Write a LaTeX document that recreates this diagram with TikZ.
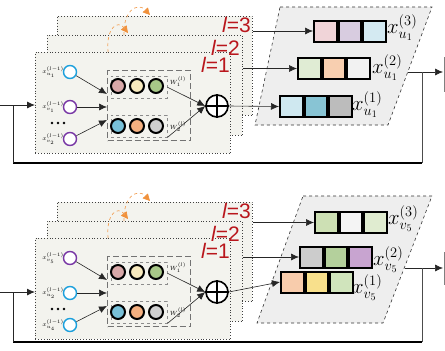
\documentclass[tikz,border=0pt]{standalone}
\usepackage{fontspec}
\newfontfamily\labfont{Liberation Sans}
\usetikzlibrary{arrows.meta,calc}

\definecolor{panelbg}{RGB}{243,243,238}
\definecolor{parabg}{RGB}{238,238,238}
\definecolor{layerred}{RGB}{185,22,28}
\definecolor{arcorange}{RGB}{240,145,60}
\definecolor{incyan}{RGB}{28,160,220}
\definecolor{inpurple}{RGB}{120,55,165}
% hidden units
\definecolor{hpink}{RGB}{216,168,168}
\definecolor{hcream}{RGB}{248,234,190}
\definecolor{hgreen}{RGB}{168,200,136}
\definecolor{hblue}{RGB}{120,192,216}
\definecolor{horange}{RGB}{244,176,128}
\definecolor{hgray}{RGB}{208,208,208}
% output embeddings, upper block
\definecolor{ua1}{RGB}{240,212,216}\definecolor{ua2}{RGB}{216,204,224}\definecolor{ua3}{RGB}{212,234,242}
\definecolor{ub1}{RGB}{224,236,212}\definecolor{ub2}{RGB}{248,207,176}\definecolor{ub3}{RGB}{242,242,242}
\definecolor{uc1}{RGB}{207,232,240}\definecolor{uc2}{RGB}{136,196,212}\definecolor{uc3}{RGB}{188,188,188}
% output embeddings, lower block
\definecolor{la1}{RGB}{205,224,180}\definecolor{la2}{RGB}{244,244,244}\definecolor{la3}{RGB}{224,236,208}
\definecolor{lb1}{RGB}{204,204,204}\definecolor{lb2}{RGB}{180,208,156}\definecolor{lb3}{RGB}{200,164,208}
\definecolor{lc1}{RGB}{248,204,172}\definecolor{lc2}{RGB}{248,224,140}\definecolor{lc3}{RGB}{208,228,188}

\tikzset{
  layerbox/.style={draw=black!75, dotted, line width=0.8pt, fill=panelbg,
    anchor=north west, minimum width=195pt, inner sep=0pt},
  layerlab/.style={text=layerred, inner sep=0pt, anchor=base east,
    font=\labfont\fontsize{21}{21}\selectfont},
  incirc/.style={circle, draw=#1, line width=1.4pt, fill=white,
    minimum size=13pt, inner sep=0pt},
  inlab/.style={anchor=east, inner sep=0pt, font=\fontsize{6.5}{7}\selectfont},
  hid/.style={circle, draw=black, line width=2pt, fill=#1,
    minimum size=14pt, inner sep=0pt},
  grpbox/.style={draw=black!55, dash pattern=on 6pt off 3pt, line width=1pt,
    anchor=north west, inner sep=0pt},
  rowbox/.style={draw=black!45, dashed, line width=0.6pt, anchor=north west,
    inner sep=0pt, minimum width=56pt, minimum height=22pt},
  wlab/.style={inner sep=0pt, font=\fontsize{6.5}{7}\selectfont},
  arr/.style={draw=black!85, line width=0.6pt, -{Latex[length=8pt,width=7pt]}},
  orangearc/.style={draw=arcorange!85, dashed, line width=0.7pt,
    -{Triangle[length=7pt,width=7pt,fill=arcorange,color=arcorange]}},
  sumnode/.style={circle, draw=black, line width=1.6pt, minimum size=22pt,
    inner sep=0pt, fill=white},
  cell/.style={draw=black, line width=2pt, fill=#1, minimum width=22.5pt,
    minimum height=21pt, inner sep=0pt, anchor=west},
  outlab/.style={anchor=west, inner sep=0pt, font=\fontsize{20}{20}\selectfont},
  para/.style={draw=black!80, dashed, line width=0.6pt, fill=parabg},
  loopline/.style={draw=black!85, line width=0.9pt},
}

% one stack of three message-passing layers
% #1 prefix, then label/colour for each of the three input nodes
\newcommand\gnnstack[7]{%
  \node[layerbox, minimum height=99pt]  (#1L3) at (57,16) {};
  \node[layerbox, minimum height=100pt] (#1L2) at (47,35) {};
  \node[layerbox, minimum height=101pt] (#1L1) at (35,52) {};
  \node[layerlab] (#1l3) at (251,32) {\itshape l\upshape=3};
  \node[layerlab] (#1l2) at (240,55) {\itshape l\upshape=2};
  \node[layerlab] (#1l1) at (230,72) {\itshape l\upshape=1};
  % layer-to-layer hints
  \coordinate (#1a1s) at (108,52);  \coordinate (#1a1e) at (128,33);
  \coordinate (#1a2s) at (124,35);  \coordinate (#1a2e) at (150,15);
  \draw[orangearc] (#1a1s) .. controls (106,27) and (118,20) .. (#1a1e);
  \draw[orangearc] (#1a2s) .. controls (123,10) and (138,2) .. (#1a2e);
  % neighbour inputs
  \node[incirc=#3] (#1c1) at (70,72)  {};
  \node[incirc=#5] (#1c2) at (70,107) {};
  \node[incirc=#7] (#1c3) at (70,139) {};
  \node[inlab] (#1x1) at (64,72)  {$x^{(l-1)}_{#2}$};
  \node[inlab] (#1x2) at (64,107) {$x^{(l-1)}_{#4}$};
  \node[inlab] (#1x3) at (64,139) {$x^{(l-1)}_{#6}$};
  \fill (52,123) circle (1.4pt) (58,123) circle (1.4pt) (64,123) circle (1.4pt);
  % weight groups
  \node[grpbox, minimum width=83pt, minimum height=70pt] (#1grp) at (107,70) {};
  \node[rowbox] (#1h1) at (111,76)  {};
  \node[rowbox] (#1h2) at (111,115) {};
  \node[hid=hpink]   (#1p1) at (118,86)  {};
  \node[hid=hcream]  (#1p2) at (137,86)  {};
  \node[hid=hgreen]  (#1p3) at (156,86)  {};
  \node[hid=hblue]   (#1q1) at (118,126) {};
  \node[hid=horange] (#1q2) at (137,126) {};
  \node[hid=hgray]   (#1q3) at (156,126) {};
  \node[wlab] (#1w1) at (178,82)  {$W_1^{(l)}$};
  \node[wlab] (#1w2) at (178,127) {$W_2^{(l)}$};
  \coordinate (#1t1) at (107,94);
  \coordinate (#1t2) at (107,107);
  \coordinate (#1t3) at (107,120);
  \draw[arr] (#1c1) -- (#1t1);
  \draw[arr] (#1c2) -- (#1t2);
  \draw[arr] (#1c3) -- (#1t3);
  % aggregation
  \node[sumnode] (#1sum) at (217,106) {};
  \draw[line width=1.6pt] (#1sum.north) -- (#1sum.south) (#1sum.west) -- (#1sum.east);
  \draw[arr] (#1h1.east) -- (#1sum.west);
  \draw[arr] ($(#1h2.east)+(0,11)$) -- (#1sum.west);
}

\begin{document}
\begin{tikzpicture}[x=1pt,y=-1pt]
\useasboundingbox (0,0) rectangle (445,351);

% ---------- upper block: node u1 ----------
\gnnstack{t}{u_1}{incyan}{v_1}{inpurple}{v_2}{inpurple}
\draw[para] (280,7) -- (432,7) -- (388,125) -- (255,125) -- cycle;
\node[cell=ua1] (tr3a) at (313,31) {};
\node[cell=ua2] (tr3b) at (tr3a.east) {};
\node[cell=ua3] (tr3c) at (tr3b.east) {};
\node[cell=ub1] (tr2a) at (297,68.5) {};
\node[cell=ub2] (tr2b) at (tr2a.east) {};
\node[cell=ub3] (tr2c) at (tr2b.east) {};
\node[cell=uc1] (tr1a) at (279,106.5) {};
\node[cell=uc2] (tr1b) at (tr1a.east) {};
\node[cell=uc3] (tr1c) at (tr1b.east) {};
\node[outlab] (tx3) at (387,28)  {$x_{u_1}^{(3)}$};
\node[outlab] (tx2) at (372,68)  {$x_{u_1}^{(2)}$};
\node[outlab] (tx1) at (352,105) {$x_{u_1}^{(1)}$};
\draw[arr] (tL3.east |- tr3a.west) -- (tr3a.west);
\draw[arr] (tL2.east |- tr2a.west) -- (tr2a.west);
\draw[arr] (tsum.east) -- (tr1a.west);
% output and feedback loop
\coordinate (tout) at (408,72);  \coordinate (tend) at (443,72);
\coordinate (tturn) at (422,72); \coordinate (tlow) at (422,163);
\coordinate (tleft) at (13,163); \coordinate (tjoin) at (13,105);
\coordinate (tin) at (0,105);
\draw[arr] (tout) -- (tend);
\draw[draw=black!70, line width=0.7pt] (tturn) -- (tlow);
\draw[draw=black, line width=1.6pt] (tlow) -- (tleft);
\draw[loopline] (tleft) -- (tjoin);
\draw[arr, line width=0.9pt] (tin) -- (tL1.west |- tin);
\draw[black!50, line width=0.8pt] (444.5,57) -- (444.5,92);

% ---------- lower block: node v5 ----------
\begin{scope}[yshift=-186pt]
\gnnstack{b}{v_5}{inpurple}{u_2}{incyan}{u_4}{incyan}
\end{scope}
\draw[para] (303,196) -- (432,196) -- (383,323) -- (257,323) -- cycle;
\node[cell=la1] (br3a) at (314,222.5) {};
\node[cell=la2] (br3b) at (br3a.east) {};
\node[cell=la3] (br3c) at (br3b.east) {};
\node[cell=lb1] (br2a) at (299,257) {};
\node[cell=lb2] (br2b) at (br2a.east) {};
\node[cell=lb3] (br2c) at (br2b.east) {};
\node[cell=lc1] (br1a) at (280,282) {};
\node[cell=lc2] (br1b) at (br1a.east) {};
\node[cell=lc3] (br1c) at (br1b.east) {};
\node[outlab] (bx3) at (388,219) {$x_{v_5}^{(3)}$};
\node[outlab] (bx2) at (373,260) {$x_{v_5}^{(2)}$};
\node[outlab] (bx1) at (352,288) {$x_{v_5}^{(1)}$};
\draw[arr] (bL3.east |- br3a.west) -- (br3a.west);
\draw[arr] (bL2.east |- br2a.west) -- (br2a.west);
\draw[arr] (bsum.east) -- (br1a.west);
\coordinate (bout) at (405,268); \coordinate (bend) at (443,268);
\coordinate (bturn) at (422,268); \coordinate (blow) at (422,342);
\coordinate (bleft) at (13,342); \coordinate (bjoin) at (13,292);
\coordinate (bin) at (0,292);
\draw[arr] (bout) -- (bend);
\draw[draw=black!70, line width=0.7pt] (bturn) -- (blow);
\draw[draw=black, line width=1.6pt] (blow) -- (bleft);
\draw[loopline] (bleft) -- (bjoin);
\draw[arr, line width=0.9pt] (bin) -- (bL1.west |- bin);
\draw[black!50, line width=0.8pt] (444.5,252) -- (444.5,285);
\end{tikzpicture}
\end{document}
